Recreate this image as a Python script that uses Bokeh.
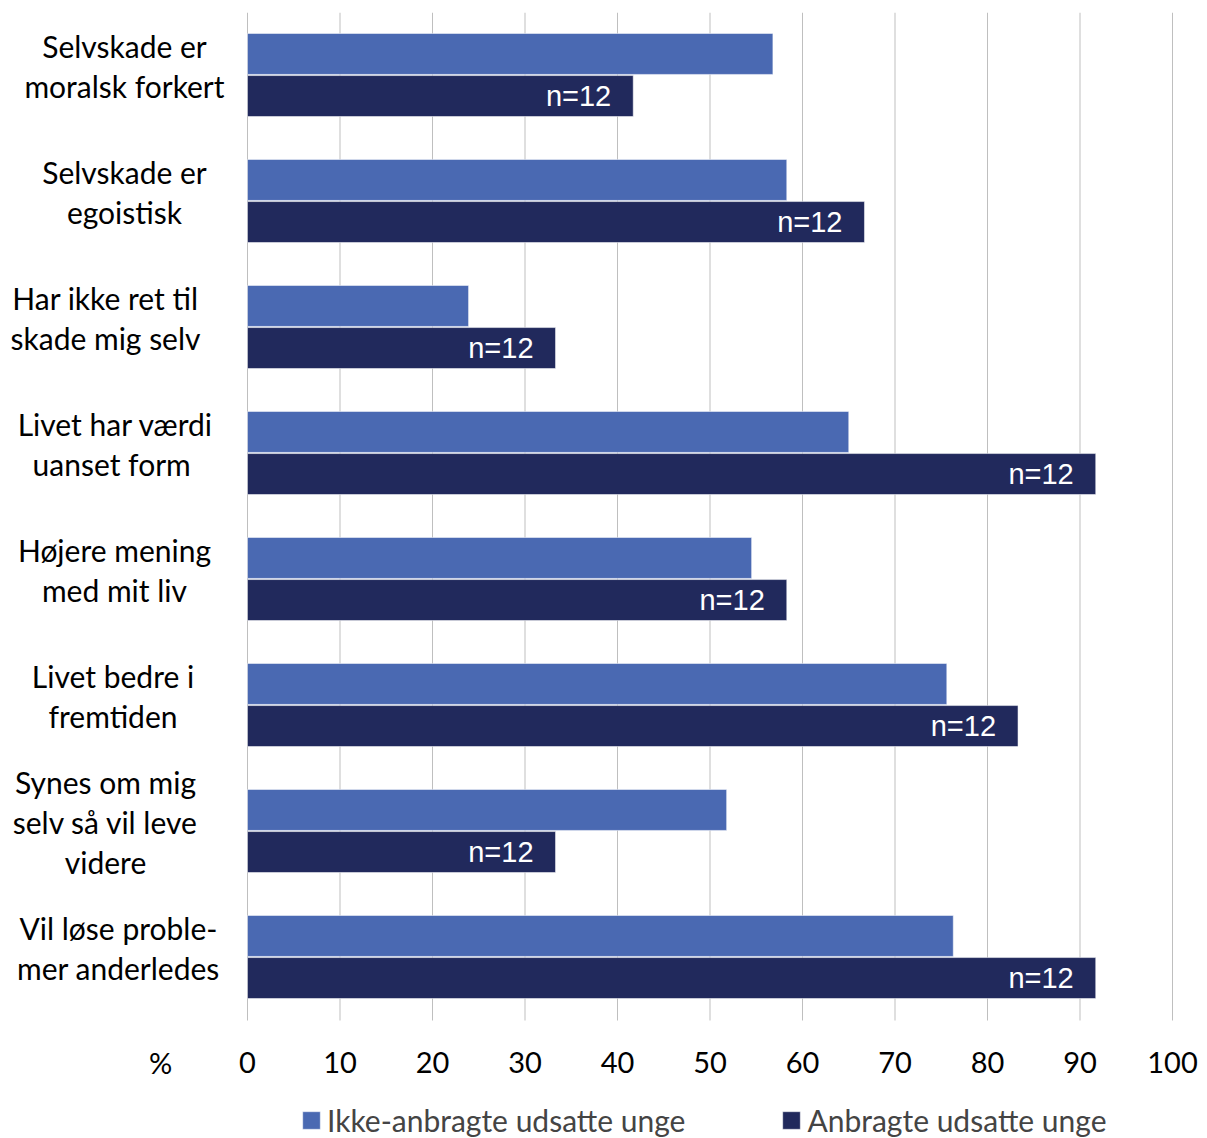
from bokeh.plotting import figure
from bokeh.models import Range1d, Legend, LegendItem, ColumnDataSource
from bokeh.embed import file_html
from bokeh.resources import INLINE
from bokeh.core.properties import value

categories = [
    "Selvskade er\nmoralsk forkert",
    "Selvskade er\negoistisk",
    "Har ikke ret til\nskade mig selv",
    "Livet har værdi\nuanset  form",
    "Højere mening\nmed mit liv",
    "Livet bedre i\nfremtiden",
    "Synes om mig\nselv så vil leve\nvidere",
    "Vil løse proble-\nmer anderledes",
]
ikke_anbragte = [56.8, 58.3, 23.9, 65.0, 54.5, 75.6, 51.8, 76.3]
anbragte = [41.7, 66.7, 33.3, 91.7, 58.3, 83.3, 33.3, 91.7]
n_labels = ["n=12"] * 8
series_names = ["Ikke-anbragte udsatte unge", "Anbragte udsatte unge"]
x_ticks = [0, 10, 20, 30, 40, 50, 60, 70, 80, 90, 100]
x_tick_labels = [str(t) for t in x_ticks]
unit_label = "%"

# layout (not data)
label_x = [-13.3, -13.3, -15.35, -14.27, -14.38, -14.54, -15.35, -13.95]
unit_x = -9.4
LIGHT = "#4A69B2"
DARK = "#21295C"
GRID = "#BFBFBF"
FONT = "Lato"
PX_X = 9.25     # pixels per percent
PX_Y = 126.0    # pixels per category band

n_cat = len(categories)
idx = list(range(n_cat))
y_light = [i + 0.5 - 0.171 for i in idx]
y_dark = [i + 0.5 + 0.163 for i in idx]
y_lab = [i + 0.5 - 0.075 for i in idx]

W, H, TOP = 1199, 1138, 12
x0 = -247 / PX_X
p = figure(width=W, height=H, output_backend="svg", toolbar_location=None,
           x_range=Range1d(x0, x0 + W / PX_X),
           y_range=Range1d(n_cat + (H - TOP - n_cat * PX_Y) / PX_Y, 0),
           x_axis_location=None, y_axis_location=None,
           min_border_left=0, min_border_right=0, min_border_top=TOP, min_border_bottom=0)
p.frame_width = W
p.frame_height = H - TOP
p.outline_line_color = None
p.background_fill_color = "white"
p.border_fill_color = "white"
p.grid.visible = False

# vertical gridlines over the category area
p.segment(x0=x_ticks, y0=[0] * len(x_ticks), x1=x_ticks, y1=[n_cat] * len(x_ticks),
          line_color=GRID, line_width=1)

src_l = ColumnDataSource(dict(y=y_light, right=ikke_anbragte))
src_d = ColumnDataSource(dict(y=y_dark, right=anbragte, lab=n_labels))
src_c = ColumnDataSource(dict(x=label_x, y=y_lab, txt=categories))

r1 = p.hbar(y="y", left=0, right="right", height=0.325, source=src_l,
            fill_color=LIGHT, line_color="white", line_alpha=0.5, line_width=1)
r2 = p.hbar(y="y", left=0, right="right", height=0.325, source=src_d,
            fill_color=DARK, line_color="white", line_alpha=0.5, line_width=1)

p.text(x="right", y="y", text="lab", source=src_d, x_offset=-22,
       text_align="right", text_baseline="middle", text_color="white",
       text_font=value("Liberation Sans"), text_font_size="29px")

p.text(x="x", y="y", text="txt", source=src_c, text_align="center",
       text_baseline="middle", text_color="black", text_font=value(FONT),
       text_font_size="30px", text_line_height=1.11)

# x tick labels and unit
p.text(x=x_ticks + [unit_x], y=[n_cat] * (len(x_ticks) + 1),
       text=x_tick_labels + [unit_label], y_offset=42,
       text_align="center", text_baseline="middle", text_color="black",
       text_font=value(FONT), text_font_size="29px")

legend = Legend(items=[LegendItem(label=series_names[0], renderers=[r1]),
                       LegendItem(label=series_names[1], renderers=[r2])],
                orientation="horizontal", location=(300, 0))
legend.label_text_font = FONT
legend.label_text_font_size = "30px"
legend.glyph_width = 22
legend.glyph_height = 22
legend.spacing = 95
legend.padding = 0
legend.margin = 0
legend.label_standoff = 5
legend.border_line_color = None
legend.background_fill_alpha = 0
p.add_layout(legend)

open("out.html", "w").write(file_html(p, INLINE))
